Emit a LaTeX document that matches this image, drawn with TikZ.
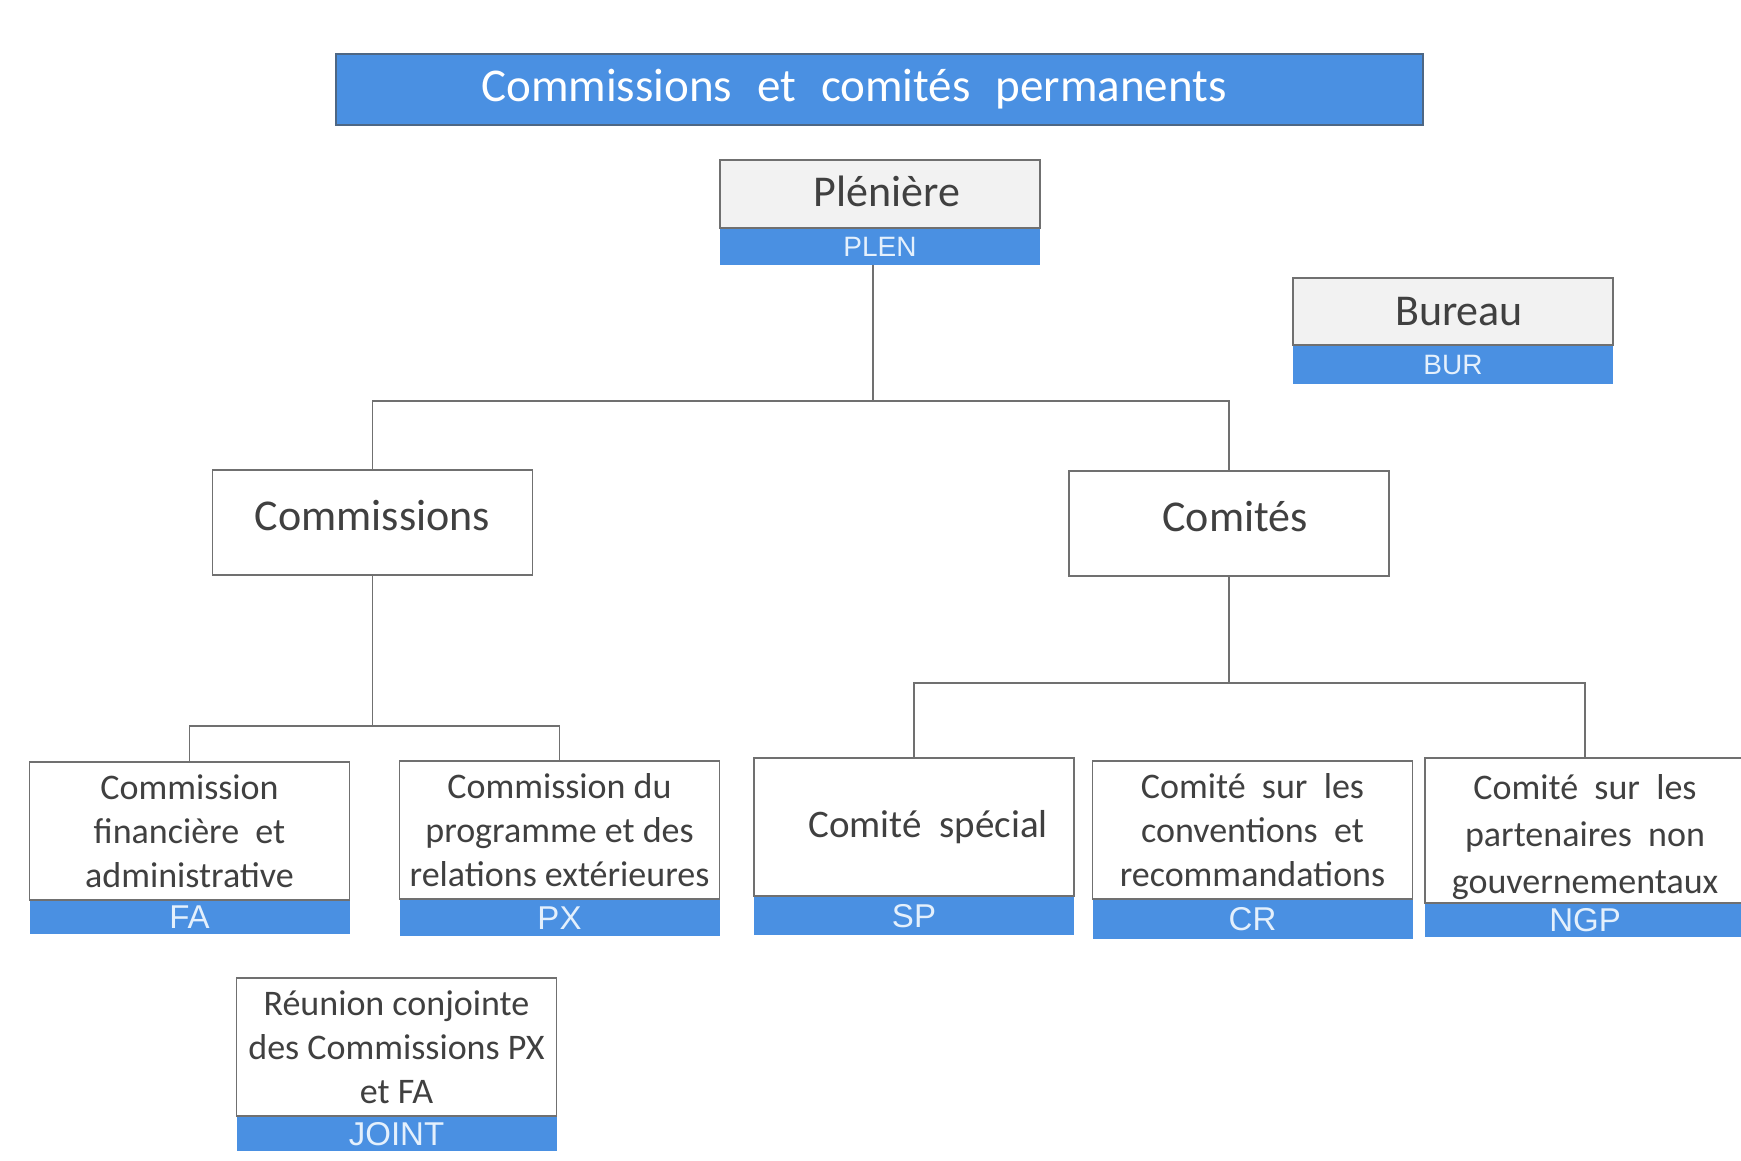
\documentclass[tikz,border=0pt]{standalone}
\usepackage{fontspec}
\setmainfont{Carlito}
\newfontfamily\codefont{Liberation Sans}
\usepackage{tikz}
\usetikzlibrary{positioning}
\usepackage{xcolor}
\definecolor{ColBlue}{RGB}{74,144,226}
\definecolor{ColGray}{RGB}{242,242,242}
\definecolor{ColText}{RGB}{64,64,64}
\definecolor{ColCode}{RGB}{228,240,252}
\definecolor{ColEdge}{RGB}{112,112,112}
\tikzstyle{TitleBar}=[rectangle,draw=ColBlue!45!black!80,fill=ColBlue,line width=1.5pt,text=white,
minimum width=1087pt,minimum height=71pt,font=\fontsize{47}{56}\selectfont]
\tikzstyle{BoxHead}=[rectangle,draw=ColEdge,fill=ColGray,line width=1.5pt,minimum width=320pt,
minimum height=68pt,inner sep=0pt,text=ColText,font=\fontsize{44}{52}\selectfont]
\tikzstyle{BoxPlain}=[rectangle,draw=ColEdge,fill=white,line width=1.5pt,minimum width=320pt,
minimum height=105pt,inner sep=0pt,text depth=15pt,text=ColText,font=\fontsize{44}{52}\selectfont]
\tikzstyle{BoxSmall}=[rectangle,draw=ColEdge,fill=white,line width=1.5pt,minimum width=320pt,
minimum height=138pt,inner sep=0pt,align=center,text=ColText,font=\fontsize{36}{44}\selectfont]
\tikzstyle{BoxBand}=[rectangle,fill=ColBlue,minimum width=320pt,minimum height=36pt,inner sep=0pt,
anchor=north,text=ColCode,font=\codefont\fontsize{28}{30}\selectfont]
\tikzstyle{BandLow}=[BoxBand,font=\codefont\fontsize{33}{33}\selectfont]
\tikzstyle{EdgeOrg}=[ColEdge,line width=1.5pt]

\begin{document}
\begin{tikzpicture}[x=1pt,y=-1pt]
        \useasboundingbox(0,0)rectangle(1741,1160);
        \node[TitleBar](title)at(879.5,89.5){\spaceskip=25pt\relax Commissions et comités permanents\hspace*{51pt}};
        % top level
        \node[BoxHead,text depth=6pt](plen)at(880,194){\hspace*{14pt}Plénière};
        \node[BoxBand](plen-code)at(plen.south){PLEN};
        \node[BoxHead,minimum height=67pt](bur)at(1453,311.5){\hspace*{12pt}Bureau};
        \node[BoxBand,minimum height=38pt](bur-code)at(bur.south){BUR};
        % second level
        \node[BoxPlain](comm)at(372.5,522.5){Commissions};
        \node[BoxPlain](comites)at(1229,523.5){\hspace*{12pt}Comités};
        % commissions
        \node[BoxSmall](fa)at(189.5,831){Commission\\financière~~et\\administrative};
        \node[BandLow,minimum height=33pt](fa-code)at(fa.south){FA};
        \node[BoxSmall](px)at(559.5,830){Commission du\\programme et des\\relations extérieures};
        \node[BandLow](px-code)at(px.south){PX};
        \node[BoxSmall](joint)at(396.5,1047){Réunion conjointe\\des Commissions PX\\et FA};
        \node[BandLow,minimum height=34pt](joint-code)at(joint.south){JOINT};
        % comites
        \node[BoxSmall,font=\fontsize{39}{44}\selectfont](sp)at(914,827){\hspace*{28pt}Comité~~spécial};
        \node[BandLow,minimum height=38pt](sp-code)at(sp.south){SP};
        \node[BoxSmall](cr)at(1252.5,830){Comité~~sur~~les\\conventions~~et\\recommandations};
        \node[BandLow,minimum height=39pt](cr-code)at(cr.south){CR};
        \node[BoxSmall,minimum height=145pt,font=\fontsize{36}{47}\selectfont](ngp)at(1585,830.5){\rule{0pt}{38pt}Comité~~sur~~les\\partenaires~~non\\gouvernementaux};
        \node[BandLow,minimum height=33pt](ngp-code)at(ngp.south){NGP};
        % connectors
        \coordinate(pTop)at([xshift=-7pt]plen-code.south);
        \path(pTop)++(0,136)coordinate(jTop);
        \path(comm.south)++(0,150)coordinate(jComm);
        \path(comites.south)++(0,106)coordinate(jComites);
        \draw[EdgeOrg](pTop)--(jTop);
        \draw[EdgeOrg](comm.north)|-(jTop)-|(comites.north);
        \draw[EdgeOrg](comm.south)--(jComm);
        \draw[EdgeOrg](fa.north)|-(jComm)-|(px.north);
        \draw[EdgeOrg](comites.south)--(jComites);
        \draw[EdgeOrg](sp.north)|-(jComites)-|(ngp.north);
    \end{tikzpicture}
\end{document}
